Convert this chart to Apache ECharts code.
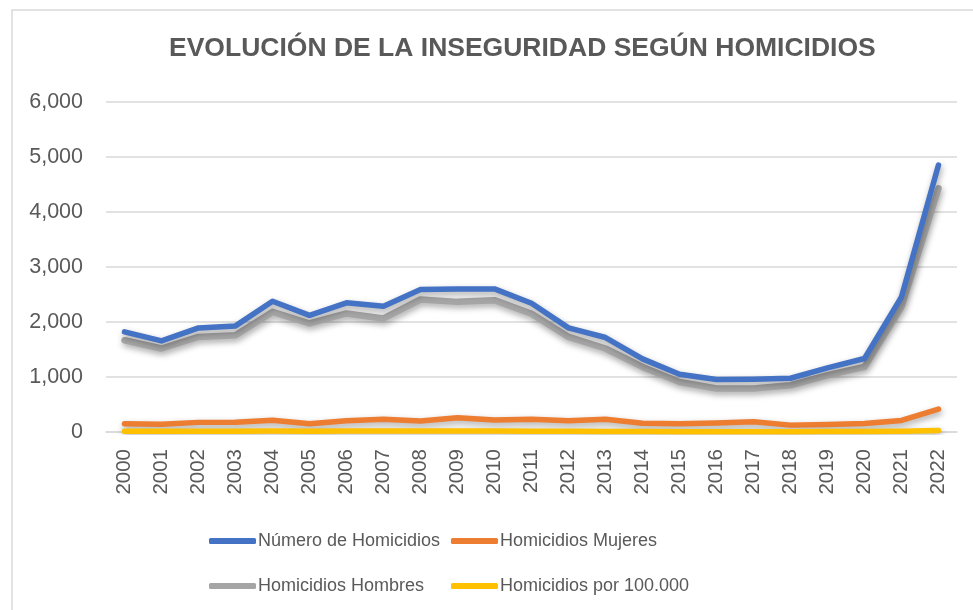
<!DOCTYPE html>
<html>
<head>
<meta charset="utf-8">
<script src="https://cdn.jsdelivr.net/npm/echarts@6/dist/echarts.min.js"></script>
<style>html,body{margin:0;padding:0;background:#fff;}#c{width:973px;height:610px;}</style>
</head>
<body>
<div id="c"></div>
<script>
const years = ['2000','2001','2002','2003','2004','2005','2006','2007','2008','2009','2010','2011','2012','2013','2014','2015','2016','2017','2018','2019','2020','2021','2022'];
const numeroHomicidios = [1820,1656,1893,1929,2378,2121,2348,2288,2591,2602,2602,2340,1893,1718,1329,1050,954,960,977,1165,1336,2457,4853];
const homicidiosMujeres = [148,140,175,178,215,150,205,230,200,260,220,230,205,230,160,150,165,185,125,135,155,210,415];
const homicidiosHombres = [1669,1518,1729,1760,2184,1973,2155,2064,2409,2366,2397,2150,1729,1518,1183,910,790,790,850,1032,1183,2275,4430];
const homicidiosPor100k = [14,13,14,14,18,15,17,16,18,18,17,15,12,11,8,6,6,6,6,7,8,14,26];
const yTicks = [0,1000,2000,3000,4000,5000,6000];

const TXT = '#595959';
const shadow = {shadowBlur: 6, shadowColor: 'rgba(0,0,0,0.35)', shadowOffsetY: 3, shadowOffsetX: 1};
function mkSeries(name, data, color, width, z) {
  return {
    name, type: 'line', data, showSymbol: false, symbol: 'none', smooth: false, z,
    lineStyle: Object.assign({color, width, cap: 'round', join: 'round'}, shadow),
    itemStyle: {color}
  };
}
function mkLegend(name, left, top) {
  return {
    data: [name], left, top, icon: 'roundRect', itemWidth: 47, itemHeight: 6, itemGap: 0,
    itemStyle: {shadowBlur: 0, shadowOffsetY: 0, shadowOffsetX: 0},
    lineStyle: {shadowBlur: 0},
    textStyle: {fontFamily: 'Liberation Sans', fontSize: 18, color: TXT, padding: [0,0,0,-3]}
  };
}
const chart = echarts.init(document.getElementById('c'));
chart.setOption({
  animation: false,
  backgroundColor: '#fff',
  graphic: [{type: 'rect', shape: {x: 12, y: 10, width: 1100, height: 800}, style: {fill: 'none', stroke: '#d9d9d9', lineWidth: 1.5}, silent: true}],
  title: {
    text: 'EVOLUCIÓN DE LA INSEGURIDAD SEGÚN HOMICIDIOS',
    left: 164, top: 30,
    textStyle: {fontFamily: 'Liberation Sans', fontWeight: 'bold', fontSize: 26.5, color: TXT}
  },
  legend: [
    mkLegend('Número de Homicidios', 204, 527),
    mkLegend('Homicidios Mujeres', 446, 527),
    mkLegend('Homicidios Hombres', 204, 572),
    mkLegend('Homicidios por 100.000', 446, 572)
  ],
  grid: {left: 106, right: 16, top: 102, bottom: 178, containLabel: false},
  xAxis: {
    type: 'category', data: years, boundaryGap: true,
    axisLine: {lineStyle: {color: '#d9d9d9', width: 1.5}},
    axisTick: {show: false},
    axisLabel: {rotate: 90, color: TXT, fontFamily: 'Liberation Sans', fontSize: 20.5, margin: 17, interval: 0}
  },
  yAxis: {
    type: 'value', min: yTicks[0], max: yTicks[yTicks.length-1], interval: 1000,
    axisLine: {show: false}, axisTick: {show: false},
    splitLine: {lineStyle: {color: '#d9d9d9', width: 1.5}},
    axisLabel: {color: TXT, fontFamily: 'Liberation Sans', fontSize: 21.5, margin: 23,
      formatter: v => v.toLocaleString('en-US')}
  },
  series: [
    mkSeries('Número de Homicidios', numeroHomicidios, '#4472C4', 5.5, 3),
    mkSeries('Homicidios Mujeres', homicidiosMujeres, '#ED7D31', 5.5, 4),
    mkSeries('Homicidios Hombres', homicidiosHombres, '#A5A5A5', 6.5, 2),
    mkSeries('Homicidios por 100.000', homicidiosPor100k, '#FFC000', 5.5, 5)
  ]
});
</script>
</body>
</html>
